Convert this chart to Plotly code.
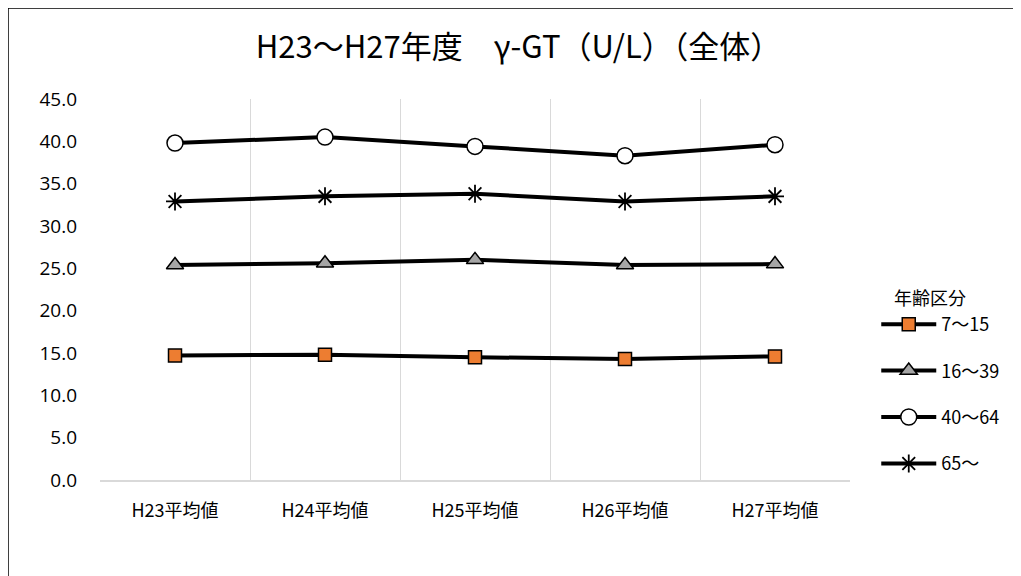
import plotly.graph_objects as go

categories = ["H23平均値", "H24平均値", "H25平均値", "H26平均値", "H27平均値"]
series_names = ["7～15", "16～39", "40～64", "65～"]
v_7_15 = [14.7, 14.8, 14.5, 14.3, 14.6]
v_16_39 = [25.4, 25.6, 26.0, 25.4, 25.5]
v_40_64 = [39.8, 40.5, 39.4, 38.3, 39.6]
v_65 = [32.9, 33.5, 33.8, 32.9, 33.5]
y_ticks = [0, 5, 10, 15, 20, 25, 30, 35, 40, 45]
legend_title = "年齢区分"

styles = [
    dict(symbol="square", size=13, color="#ED7D31", line=dict(color="black", width=1.5)),
    dict(symbol="triangle-up", size=15, color="#A5A5A5", line=dict(color="black", width=1.5)),
    dict(symbol="circle", size=16, color="white", line=dict(color="black", width=1.5)),
    dict(symbol="asterisk-open", size=15, color="black", line=dict(color="black", width=1.8)),
]

fig = go.Figure()
for name, vals, st in zip(series_names, [v_7_15, v_16_39, v_40_64, v_65], styles):
    fig.add_trace(go.Scatter(
        x=categories, y=vals, name=name, mode="lines+markers",
        line=dict(color="black", width=4),
        marker=st, legendgroup=name,
    ))

font_main = "Noto Sans CJK JP"
L, T, PW, PH = 92, 91, 750, 381
fig.update_layout(
    width=1021, height=576,
    paper_bgcolor="white", plot_bgcolor="white",
    margin=dict(l=L, r=1021 - L - PW, t=T, b=576 - T - PH),
    title=dict(text="H23～H27年度　γ-GT（U/L）（全体）", x=0.5, xanchor="center",
               y=1 - 39/576, yref="container", yanchor="middle",
               font=dict(family=font_main, size=31, color="black")),
    font=dict(family=font_main, color="black"),
    showlegend=True,
    legend=dict(
        x=1.035, xanchor="left", y=(PH - (306 - 8 - T)) / PH, yanchor="top",
        font=dict(family=font_main, size=18),
        tracegroupgap=20,
        itemwidth=55,
        bgcolor="rgba(0,0,0,0)",
    ),
    annotations=[dict(text=legend_title, xref="paper", yref="paper",
                      x=(892 - 8 - L) / PW, xanchor="left",
                      y=(PH - (297 - 8 - T)) / PH, yanchor="middle",
                      showarrow=False, font=dict(family=font_main, size=18, color="black"))],
    xaxis=dict(
        type="category", tickson="boundaries", range=[-0.5, 4.5],
        showgrid=True, gridcolor="#d9d9d9", gridwidth=1,
        showline=True, linecolor="#d9d9d9", linewidth=1.5,
        ticks="", tickfont=dict(family=font_main, size=18),
        ticklabelstandoff=14,
        zeroline=False,
    ),
    yaxis=dict(
        range=[0, 45], tickvals=y_ticks, tickformat=".1f",
        showgrid=False, showline=False, zeroline=False, ticks="",
        tickfont=dict(family="Open Sans", size=19),
        ticklabelstandoff=22,
    ),
    shapes=[dict(type="rect", xref="paper", yref="paper",
                 x0=-L / PW, x1=1.4, y0=-0.5, y1=1 + T / PH,
                 line=dict(color="black", width=1.5), fillcolor="rgba(0,0,0,0)")],
)

fig.write_html("out.html")
